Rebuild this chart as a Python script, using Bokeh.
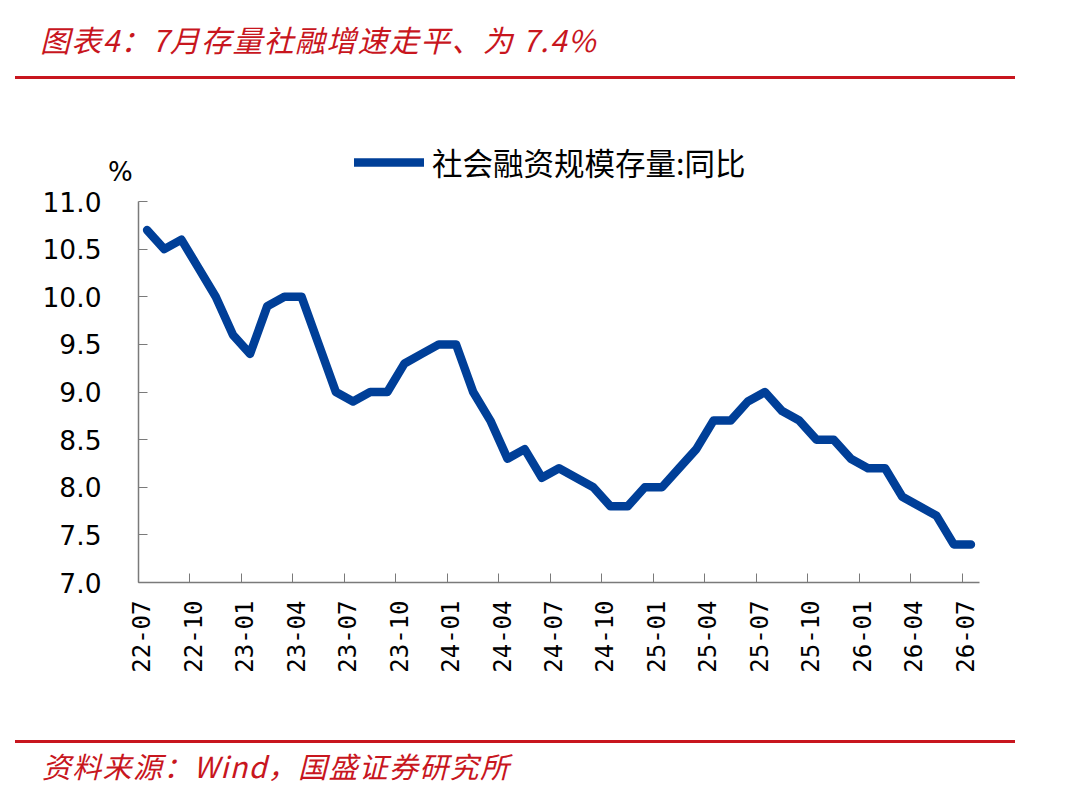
import math
from bokeh.plotting import figure
from bokeh.models import (Div, Legend, LegendItem, FixedTicker,
                          CustomJSTickFormatter, PrintfTickFormatter, Range1d,
                          ColumnDataSource)
from bokeh.layouts import column
from bokeh.embed import file_html
from bokeh.resources import INLINE

# ---------------- data ----------------
months = []
for yy in range(22, 27):
    for mm in range(1, 13):
        if (yy == 22 and mm < 7) or (yy == 26 and mm > 7):
            continue
        months.append(f"{yy:02d}-{mm:02d}")

values = [10.7, 10.5, 10.6, 10.3, 10.0, 9.6, 9.4, 9.9, 10.0, 10.0,
          9.5, 9.0, 8.9, 9.0, 9.0, 9.3, 9.4, 9.5, 9.5, 9.0,
          8.7, 8.3, 8.4, 8.1, 8.2, 8.1, 8.0, 7.8, 7.8, 8.0,
          8.0, 8.2, 8.4, 8.7, 8.7, 8.9, 9.0, 8.8, 8.7, 8.5,
          8.5, 8.3, 8.2, 8.2, 7.9, 7.8, 7.7, 7.4, 7.4]

tick_labels = ["22-07", "22-10", "23-01", "23-04", "23-07", "23-10", "24-01",
               "24-04", "24-07", "24-10", "25-01", "25-04", "25-07", "25-10",
               "26-01", "26-04", "26-07"]
y_ticks = [7.0, 7.5, 8.0, 8.5, 9.0, 9.5, 10.0, 10.5, 11.0]

series_name = "社会融资规模存量:同比"
unit_text = "%"
title_text = "图表4：7月存量社融增速走平、为 7.4%"
source_text = "资料来源：Wind，国盛证券研究所"

RED = "#c8161e"
BLUE = "#003f98"
AXIS = "#7a7a7a"

# ---------------- figure ----------------
n = len(months)
src = ColumnDataSource(dict(x=[i + 0.5 for i in range(n)], y=values, m=months))

axis_px = 381                      # height of the 7.0 .. 11.0 axis in pixels
frame_h = 441                      # frame extends above 11.0 to hold the legend
y_lo, y_hi = y_ticks[0], y_ticks[-1]
y_top = y_lo + frame_h * (y_hi - y_lo) / axis_px

p = figure(frame_width=841, frame_height=frame_h,
           min_border_left=138, min_border_right=85,
           min_border_top=61, min_border_bottom=153,
           x_range=Range1d(0, n), y_range=Range1d(y_lo, y_top),
           output_backend="svg", toolbar_location=None)
p.outline_line_color = None
p.grid.visible = False
p.background_fill_color = "white"
p.border_fill_color = "white"

r = p.line("x", "y", source=src, line_color=BLUE, line_width=8.5,
           line_join="round", line_cap="round")

label_idx = [months.index(t) for t in tick_labels]
LBL_SHIFT = 0.15

xa = p.xaxis[0]
xa.ticker = FixedTicker(ticks=[i + LBL_SHIFT for i in label_idx],
                        minor_ticks=[float(i) for i in label_idx])
xa.formatter = CustomJSTickFormatter(
    args=dict(labels=tick_labels, shift=LBL_SHIFT),
    code="const k = Math.round((tick - shift) / 3); return (k >= 0 && k < labels.length) ? labels[k] : '';")
xa.major_tick_in = 0
xa.major_tick_out = 0
xa.minor_tick_in = 9
xa.minor_tick_out = 0
xa.minor_tick_line_color = AXIS
xa.axis_line_color = AXIS
xa.axis_line_width = 1.5
xa.major_label_orientation = math.pi / 2
xa.major_label_standoff = 18
xa.major_label_text_font = "DejaVu Sans Mono"
xa.major_label_text_font_size = "24px"
xa.major_label_text_color = "black"

ya = p.yaxis[0]
ya.bounds = (y_lo, y_hi)
ya.ticker = FixedTicker(ticks=y_ticks)
ya.formatter = PrintfTickFormatter(format="%.1f")
ya.major_tick_in = 9
ya.major_tick_out = 0
ya.minor_tick_in = 0
ya.minor_tick_out = 0
ya.major_tick_line_color = AXIS
ya.axis_line_color = AXIS
ya.axis_line_width = 1.5
ya.major_label_standoff = 37
ya.major_label_text_font = "DejaVu Sans"
ya.major_label_text_font_size = "26.5px"
ya.major_label_text_color = "black"

legend = Legend(items=[LegendItem(label=series_name, renderers=[r])],
                location=(216, 398), orientation="horizontal",
                padding=0, margin=0, border_line_color=None,
                background_fill_alpha=0, glyph_width=70, glyph_height=30,
                label_standoff=8, label_height=30,
                label_text_font="Noto Sans CJK SC",
                label_text_font_size="30.5px", label_text_color="black")
p.add_layout(legend)

# ---------------- header / footer ----------------
title_html = f"""
<div style="position:relative;width:1064px;height:80px;">
  <div style="position:absolute;left:40px;top:24px;color:{RED};font-family:'Noto Sans CJK SC';
       font-style:italic;font-size:30px;letter-spacing:1.3px;line-height:1;white-space:nowrap;">{title_text}</div>
  <div style="position:absolute;left:15px;top:76px;width:1000px;height:3px;background:{RED};"></div>
</div>"""
source_html = f"""
<div style="position:relative;width:1064px;height:50px;overflow:visible;">
  <div style="position:absolute;left:108px;top:-576px;color:black;font-family:'DejaVu Sans';
       font-size:26px;line-height:1;white-space:nowrap;">{unit_text}</div>
  <div style="position:absolute;left:15px;top:5px;width:1000px;height:3px;background:{RED};"></div>
  <div style="position:absolute;left:42px;top:16px;color:{RED};font-family:'Noto Sans CJK SC';
       font-style:italic;font-size:29px;letter-spacing:1.3px;line-height:1;white-space:nowrap;">{source_text}</div>
</div>"""

head = Div(text=title_html, width=1064, height=80, margin=0)
foot = Div(text=source_html, width=1064, height=50, margin=0)

layout = column(head, p, foot, spacing=0)

open("out.html", "w").write(file_html(layout, INLINE))
